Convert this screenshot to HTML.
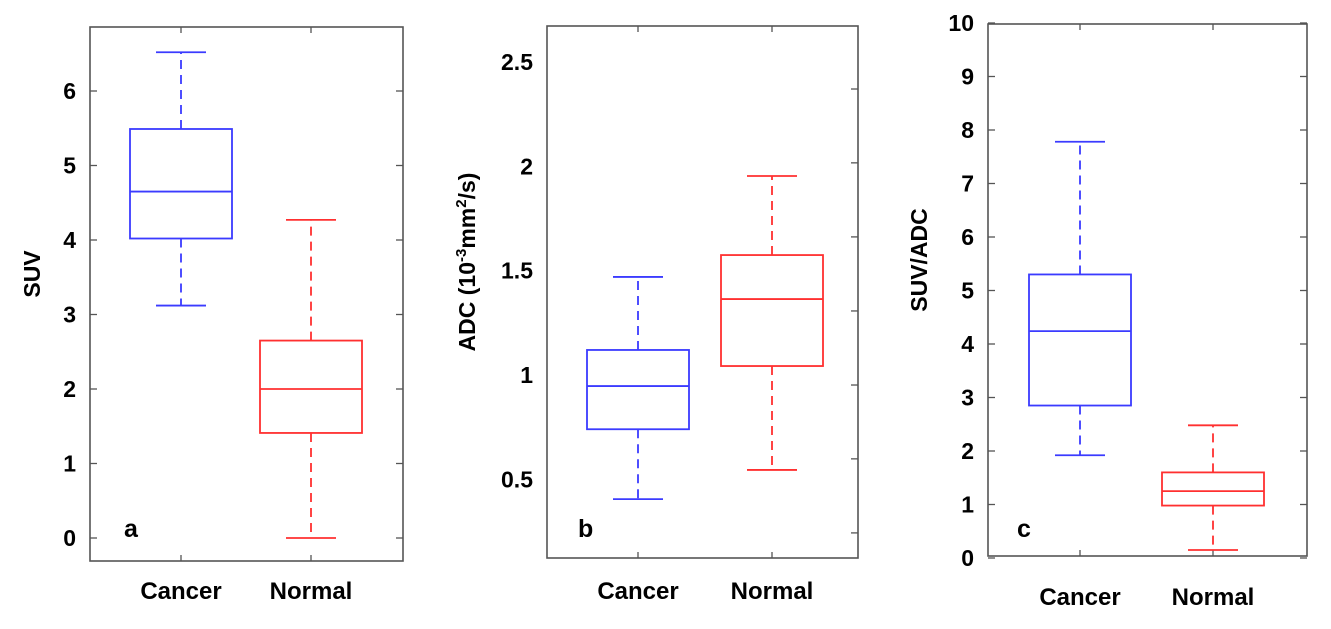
<!DOCTYPE html>
<html><head><meta charset="utf-8"><style>
html,body{margin:0;padding:0;background:#fff;}
svg{display:block;font-family:"Liberation Sans",Arial,sans-serif;font-weight:bold;}
</style></head><body>
<svg id="chart" width="1331" height="629" viewBox="0 0 1331 629" xmlns="http://www.w3.org/2000/svg"></svg>
<script>
const categories = ["Cancer", "Normal"];
// [whiskerLow, Q1, median, Q3, whiskerHigh]
const suvCancer = [3.12, 4.02, 4.65, 5.49, 6.52];
const suvNormal = [0.0, 1.41, 2.0, 2.65, 4.27];
const adcCancer = [0.405, 0.74, 0.947, 1.12, 1.47];
const adcNormal = [0.545, 1.043, 1.364, 1.575, 1.954];
const ratioCancer = [1.92, 2.85, 4.24, 5.3, 7.78];
const ratioNormal = [0.15, 0.98, 1.25, 1.6, 2.48];
const suvTicks = [0, 1, 2, 3, 4, 5, 6];
const adcTicks = [0.5, 1, 1.5, 2, 2.5];
const adcTickLabels = ["0.5", "1", "1.5", "2", "2.5"];
const adcRightTicks = [0.243, 0.598, 0.952, 1.307, 1.662, 2.017, 2.371];
const ratioTicks = [0, 1, 2, 3, 4, 5, 6, 7, 8, 9, 10];

const NS = "http://www.w3.org/2000/svg";
const svg = document.getElementById("chart");
function mk(tag, attrs, parent) {
  const e = document.createElementNS(NS, tag);
  for (const k in attrs) e.setAttribute(k, attrs[k]);
  (parent || svg).appendChild(e);
  return e;
}

function panel(cfg) {
  const g = mk("g", {});
  
  
  const y = v => cfg.y0 - (v - cfg.v0) * cfg.pxPerUnit;
  const L = cfg.left, R = cfg.right, T = cfg.top, B = cfg.bottom;
  const xc = [cfg.cx[0], cfg.cx[1]];
  const fr = mk("rect", {x: L, y: T, width: R - L, height: B - T, fill: "none", stroke: "#555", "stroke-width": 1.6}, g);
  
  
  cfg.ticks.forEach((v, i) => {
    const yy = y(v);
    if (cfg.leftTickMarks) mk("line", {x1: L, x2: L + 7, y1: yy, y2: yy, stroke: "#555", "stroke-width": 1.3}, g);
    const t = mk("text", {x: L - 14, y: yy + 8, "text-anchor": "end", "font-size": 23, fill: "#000"}, g);
    t.textContent = cfg.tickLabels ? cfg.tickLabels[i] : String(v);
    
    
  });
  (cfg.rightTicks || cfg.ticks).forEach(v => {
    const yy = y(v);
    mk("line", {x1: R - 7, x2: R, y1: yy, y2: yy, stroke: "#555", "stroke-width": 1.3}, g);
  });
  categories.forEach((c, i) => {
    mk("line", {x1: xc[i], x2: xc[i], y1: T, y2: T + 6, stroke: "#555", "stroke-width": 1.3}, g);
    mk("line", {x1: xc[i], x2: xc[i], y1: B - 6, y2: B, stroke: "#555", "stroke-width": 1.3}, g);
    const t = mk("text", {x: xc[i], y: cfg.catY, "text-anchor": "middle", "font-size": 24, fill: "#000"}, g);
    t.textContent = c;
    
    
  });
  [[cfg.data[0], "#3b3bff"], [cfg.data[1], "#ff3030"]].forEach(([d, col], i) => {
    const bg = mk("g", {stroke: col, fill: "none", "stroke-width": 1.8}, g);
    
    
    const x = xc[i], hw = 51, cw = 25;
    mk("line", {x1: x, x2: x, y1: y(d[3]), y2: y(d[4]), "stroke-dasharray": "9 6"}, bg);
    mk("line", {x1: x, x2: x, y1: y(d[1]), y2: y(d[0]), "stroke-dasharray": "9 6"}, bg);
    mk("line", {x1: x - cw, x2: x + cw, y1: y(d[4]), y2: y(d[4])}, bg);
    mk("line", {x1: x - cw, x2: x + cw, y1: y(d[0]), y2: y(d[0])}, bg);
    mk("rect", {x: x - hw, y: y(d[3]), width: 2 * hw, height: y(d[1]) - y(d[3])}, bg);
    mk("line", {x1: x - hw, x2: x + hw, y1: y(d[2]), y2: y(d[2])}, bg);
  });
  const yt = mk("text", {transform: `translate(${cfg.titleX},${(T + B) / 2 + cfg.titleDy}) rotate(-90)`, "text-anchor": "middle", "font-size": 23, fill: "#000"}, g);
  yt.innerHTML = cfg.title;
  
  
  const lt = mk("text", {x: cfg.letterX, y: cfg.letterY, "font-size": 25, fill: "#000"}, g);
  lt.textContent = cfg.letter;
  
  
}

panel({name: "panel-a-suv", left: 90, right: 403, top: 27, bottom: 561, y0: 538, v0: 0, pxPerUnit: 74.5,
  cx: [181, 311], ticks: suvTicks, leftTickMarks: true, data: [suvCancer, suvNormal],
  catY: 599, title: "SUV", titleX: 40, titleDy: -20, letter: "a", letterX: 124, letterY: 537});
panel({name: "panel-b-adc", left: 547, right: 858, top: 26, bottom: 558, y0: 375, v0: 1, pxPerUnit: 208.6,
  cx: [638, 772], ticks: adcTicks, tickLabels: adcTickLabels, leftTickMarks: false, rightTicks: adcRightTicks,
  data: [adcCancer, adcNormal], catY: 599, title: "ADC (10<tspan dy='-9' font-size='15'>-3</tspan><tspan dy='9'>mm</tspan><tspan dy='-9' font-size='15'>2</tspan><tspan dy='9'>/s)</tspan>",
  titleX: 475, titleDy: -30, letter: "b", letterX: 578, letterY: 537});
panel({name: "panel-c-suv-adc", left: 988, right: 1307, top: 24, bottom: 556, y0: 558, v0: 0, pxPerUnit: 53.5,
  cx: [1080, 1213], ticks: ratioTicks, leftTickMarks: true, data: [ratioCancer, ratioNormal],
  catY: 605, title: "SUV/ADC", titleX: 927, titleDy: -30, letter: "c", letterX: 1017, letterY: 537});
</script>
</body></html>
